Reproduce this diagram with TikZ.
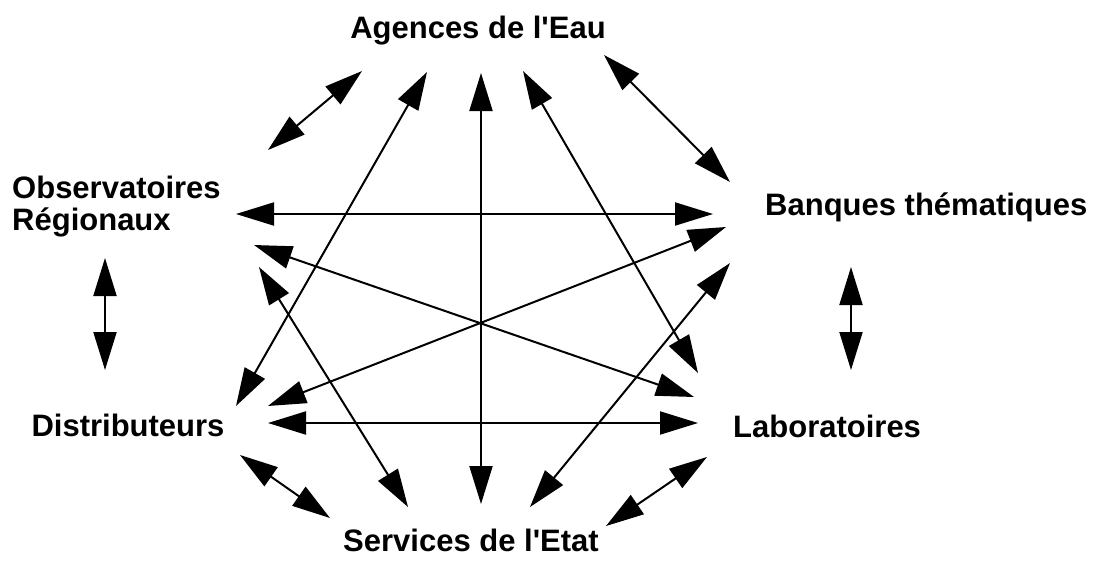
\documentclass[tikz,border=0pt]{standalone}
\usepackage{fontspec}
\setmainfont{Liberation Sans}
\usetikzlibrary{arrows.meta}

\tikzset{
  acteur/.style={font=\fontsize{31}{32}\selectfont\bfseries, inner sep=0pt},
  lien/.style={<->, >={Triangle[length=38pt,width=23pt]}, line width=2pt}
}

\begin{document}
\begin{tikzpicture}[x=1pt, y=-1pt]
    \useasboundingbox (0,0) rectangle (1098,573);

    \node [acteur, anchor=base] (agences) at (478,38) {Agences de l\textquotesingle Eau};
    \node [acteur, anchor=base west, align=left] (observatoires) at (12,230) {Observatoires\\R\'egionaux};
    \node [acteur, anchor=base west] (banques) at (765,215) {Banques th\'ematiques};
    \node [acteur, anchor=base] (distributeurs) at (128,436) {Distributeurs};
    \node [acteur, anchor=base west] (laboratoires) at (733,437) {Laboratoires};
    \node [acteur, anchor=base] (services) at (471,551) {Services de l\textquotesingle Etat};

    % extremites des fleches
    \coordinate (a1) at (362,71);  \coordinate (a2) at (427,72);  \coordinate (a3) at (481,73);
    \coordinate (a4) at (523,71);  \coordinate (a5) at (604,55);
    \coordinate (o1) at (268,150); \coordinate (o2) at (236,214); \coordinate (o3) at (254,245);
    \coordinate (o4) at (259,267); \coordinate (o5) at (105,258);
    \coordinate (b1) at (730,182); \coordinate (b2) at (713,214); \coordinate (b3) at (726,227);
    \coordinate (b4) at (730,263); \coordinate (b5) at (851,267);
    \coordinate (d1) at (236,406); \coordinate (d2) at (268,406); \coordinate (d3) at (268,423);
    \coordinate (d4) at (240,455); \coordinate (d5) at (105,370);
    \coordinate (l1) at (698,373); \coordinate (l2) at (694,397); \coordinate (l3) at (698,423);
    \coordinate (l4) at (707,457); \coordinate (l5) at (851,370);
    \coordinate (s1) at (481,504); \coordinate (s2) at (408,507); \coordinate (s3) at (530,507);
    \coordinate (s4) at (330,518); \coordinate (s5) at (606,526);

    \draw [lien] (a1) -- (o1);
    \draw [lien] (a2) -- (d1);
    \draw [lien] (a3) -- (s1);
    \draw [lien] (a4) -- (l1);
    \draw [lien] (a5) -- (b1);
    \draw [lien] (o2) -- (b2);
    \draw [lien] (b3) -- (d2);
    \draw [lien] (o3) -- (l2);
    \draw [lien] (o4) -- (s2);
    \draw [lien] (b4) -- (s3);
    \draw [lien] (d3) -- (l3);
    \draw [lien] (d4) -- (s4);
    \draw [lien] (l4) -- (s5);
    \draw [lien] (o5) -- (d5);
    \draw [lien] (b5) -- (l5);
\end{tikzpicture}
\end{document}
